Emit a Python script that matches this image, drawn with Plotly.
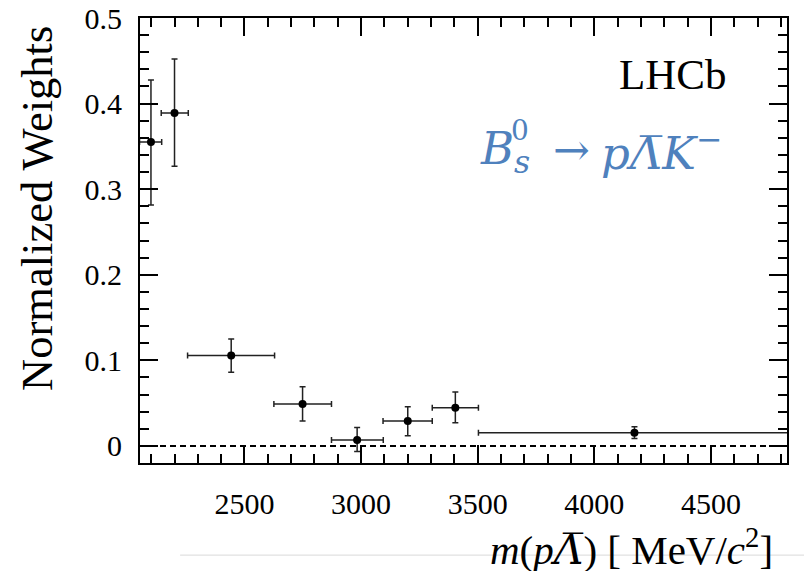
import plotly.graph_objects as go

# Data
mass = [2099, 2200, 2443, 2749, 2983, 3200, 3404, 4172]
mass_lo = [49, 57, 187, 123, 110, 106, 99, 669]      # distance to left bin edge
mass_hi = [46, 59, 186, 124, 112, 105, 99, 660]      # distance to right bin edge
weight = [0.355, 0.389, 0.1055, 0.049, 0.007, 0.029, 0.0447, 0.0153]
err_up = [0.0725, 0.063, 0.0195, 0.020, 0.0144, 0.0167, 0.0184, 0.0071]
err_dn = [0.0736, 0.0623, 0.0194, 0.0199, 0.0137, 0.0172, 0.0178, 0.0067]

x_range = [2052, 4826]
y_range = [-0.02, 0.5]
x_ticks = [2500, 3000, 3500, 4000, 4500]
y_ticks = [0, 0.1, 0.2, 0.3, 0.4, 0.5]
y_tick_text = ["0", "0.1", "0.2", "0.3", "0.4", "0.5"]

serif = "Liberation Serif"
blue = "#4f81bd"
math_font = "DejaVu Serif"

fig = go.Figure()
fig.add_trace(go.Scatter(
    x=mass, y=weight, mode="markers",
    marker=dict(color="black", size=8),
    error_x=dict(type="data", symmetric=False, array=mass_hi, arrayminus=mass_lo,
                 color="#222222", thickness=1.5, width=3),
    error_y=dict(type="data", symmetric=False, array=err_up, arrayminus=err_dn,
                 color="#222222", thickness=1.5, width=3),
    showlegend=False,
))

fig.add_shape(type="line", xref="x domain", yref="y", x0=0, x1=1, y0=0, y1=0,
              line=dict(color="black", width=2, dash="6px,4px"))
fig.add_shape(type="line", xref="paper", yref="paper", x0=0.062, x1=1.03, y0=-0.207, y1=-0.207,
              line=dict(color="#d9d9d9", width=1), layer="below")

axis_common = dict(
    showline=True, linecolor="black", linewidth=2, mirror="ticks",
    ticks="inside", ticklen=18, tickwidth=1.5, tickcolor="black",
    showgrid=False, zeroline=False, automargin=False,
    tickfont=dict(family=serif, size=30, color="black"),
)

fig.update_xaxes(range=x_range, tickvals=x_ticks, ticktext=[str(v) for v in x_ticks],
                 minor=dict(dtick=100, ticks="inside", ticklen=9, tickwidth=1.5, tickcolor="black"),
                 ticklabelstandoff=13, **axis_common)
fig.update_yaxes(range=y_range, tickvals=y_ticks, ticktext=y_tick_text,
                 minor=dict(dtick=0.02, tick0=0, ticks="inside", ticklen=9, tickwidth=1.5, tickcolor="black"),
                 ticklabelstandoff=10, **axis_common)

fig.add_annotation(text="Normalized Weights", xref="paper", yref="paper", x=0, y=0.571,
                   xshift=-103, textangle=-90, showarrow=False, xanchor="center", yanchor="middle",
                   font=dict(family=serif, size=44.5, color="black"))
fig.add_annotation(text="<i>m</i>(<i>p</i><i><span style='font-family:DejaVu Serif'>Λ̅</span></i>) [ MeV/<i>c</i><sup>2</sup>]",
                   xref="paper", yref="paper", x=0.981, y=-0.19, showarrow=False,
                   xanchor="right", yanchor="middle",
                   font=dict(family=serif, size=41, color="black"))
fig.add_annotation(text="LHCb", xref="paper", yref="paper", x=0.910, y=0.872, showarrow=False,
                   xanchor="right", yanchor="middle",
                   font=dict(family=serif, size=43, color="black"))

# Decay label, built from pieces so that sub- and superscript stack
fig.add_annotation(text="<i>B</i><sub><i>s</i></sub>", xref="paper", yref="paper",
                   x=0.523, y=0.702, showarrow=False, xanchor="left", yanchor="middle",
                   font=dict(family=math_font, size=45, color=blue))
fig.add_annotation(text="0", xref="paper", yref="paper",
                   x=0.571, y=0.706, showarrow=False, xanchor="left", yanchor="bottom",
                   font=dict(family=math_font, size=28, color=blue))
fig.add_annotation(text="→", xref="paper", yref="paper",
                   x=0.636, y=0.704, showarrow=False, xanchor="left", yanchor="middle",
                   font=dict(family=math_font, size=44, color=blue))
fig.add_annotation(text="<i>p</i><i>Λ̅</i><i>K</i><sup>−</sup>", xref="paper", yref="paper",
                   x=0.709, y=0.702, showarrow=False, xanchor="left", yanchor="middle",
                   font=dict(family=math_font, size=45, color=blue))

fig.update_layout(width=804, height=571, margin=dict(l=140, r=17, t=18, b=108),
                  plot_bgcolor="white", paper_bgcolor="white")

fig.write_html("out.html", config={"displayModeBar": False},
               post_script="document.body.style.margin='0';")
